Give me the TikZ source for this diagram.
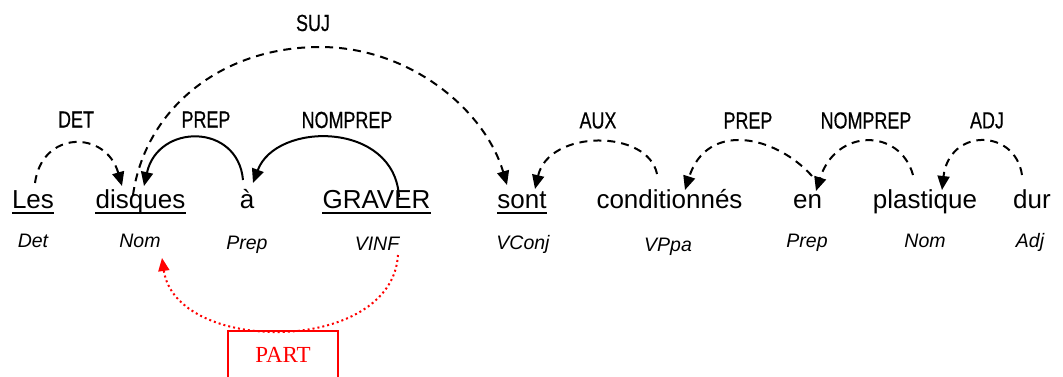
\documentclass[tikz,border=0pt]{standalone}
\usepackage{fontspec}
\setmainfont{Liberation Sans}
\newfontfamily\lblfont[FakeStretch=0.77,FakeBold=0.5]{Liberation Sans}
\newfontfamily\partfont{Liberation Serif}
\usetikzlibrary{arrows.meta}

\begin{document}
\begin{tikzpicture}[x=1pt,y=-1pt,
  word/.style={anchor=base, inner sep=0pt, font=\fontsize{26}{30}\selectfont},
  tag/.style={anchor=base, inner sep=0pt, font=\fontsize{19.5}{23}\selectfont\itshape},
  rel/.style={inner sep=0pt, font=\lblfont\fontsize{23.3}{28}\selectfont},
  dep/.style={line width=2pt, -{Triangle[length=14pt,width=12pt]}},
  depdash/.style={dep, dash pattern=on 8pt off 6pt},
  ul/.style={line width=2.2pt},
  partarc/.style={red, line width=2pt, dash pattern=on 2pt off 3pt,
    -{Triangle[length=13pt,width=11pt]}},
  partbox/.style={draw=red, line width=1.8pt, text=red, anchor=base,
    minimum width=110pt, inner xsep=0pt, inner ysep=0pt,
    text height=31pt, text depth=40pt, font=\partfont\fontsize{23}{27}\selectfont}
]
\useasboundingbox (0,0) rectangle (1063,377);

% sentence words
\node[word] (w1) at (33,208)   {Les};
\node[word] (w2) at (140.5,208) {disques};
\node[word] (w3) at (247,208)  {à};
\node[word] (w4) at (376.5,208) {GRAVER};
\node[word] (w5) at (522,208)  {sont};
\node[word] (w6) at (669.5,208) {conditionnés};
\node[word] (w7) at (807.5,208) {en};
\node[word] (w8) at (925,208)  {plastique};
\node[word] (w9) at (1032,208) {dur};

% underlined words
\foreach \w in {w1,w2,w4,w5}
  \draw[ul] ([yshift=-5pt]\w.base west) -- ([yshift=-5pt]\w.base east);

% part-of-speech tags
\node[tag] (t1) at (33,247)  {Det};
\node[tag] (t2) at (140,247) {Nom};
\node[tag] (t3) at (247,249) {Prep};
\node[tag] (t4) at (377,250) {VINF};
\node[tag] (t5) at (523,249) {VConj};
\node[tag] (t6) at (668,251) {VPpa};
\node[tag] (t7) at (807,247) {Prep};
\node[tag] (t8) at (925,247) {Nom};
\node[tag] (t9) at (1030,247) {Adj};

% relation labels
\node[rel] (lDET)  at (76,119.5)  {DET};
\node[rel] (lSUJ)  at (313,23)  {SUJ};
\node[rel] (lPREP) at (206,119.5) {PREP};
\node[rel] (lNP)   at (347,120) {NOMPREP};
\node[rel] (lAUX)  at (598,120.5) {AUX};
\node[rel] (lPREP2) at (748,120.5) {PREP};
\node[rel] (lNP2)  at (866,120.5) {NOMPREP};
\node[rel] (lADJ)  at (987,120.5) {ADJ};

% dependency arcs
\draw[depdash] ([xshift=2pt,yshift=25pt]w1.base)
  .. controls (42,130) and (106,130) .. ([xshift=-18.5pt,yshift=22pt]w2.base);
\draw[depdash] ([xshift=-7.5pt,yshift=13pt]w2.base)
  .. controls (145,110) and (220,47) .. (320,47)
  .. controls (410,47) and (485,110) .. ([xshift=-15pt,yshift=23pt]w5.base);
\draw[dep] ([xshift=-4pt,yshift=28pt]w3.base)
  .. controls (238,123) and (158,123) .. ([xshift=3.5pt,yshift=22pt]w2.base);
\draw[dep] ([xshift=22.5pt,yshift=11pt]w4.base)
  .. controls (395,121) and (276,121) .. ([xshift=6pt,yshift=25pt]w3.base);
\draw[depdash] ([xshift=-12.5pt,yshift=34pt]w6.base)
  .. controls (648,129) and (549,129) .. ([xshift=13pt,yshift=19pt]w5.base);
\draw[depdash] ([xshift=4.5pt,yshift=32pt]w7.base)
  .. controls (775,135) and (707,121) .. ([xshift=15.5pt,yshift=18pt]w6.base);
\draw[depdash] ([xshift=-12pt,yshift=33pt]w8.base)
  .. controls (900,128) and (836,128) .. ([xshift=8.5pt,yshift=17pt]w7.base);
\draw[depdash] ([xshift=-10pt,yshift=33pt]w9.base)
  .. controls (1015,128) and (949,128) .. ([xshift=17pt,yshift=18pt]w8.base);

% PART relation below the sentence
\node[partbox] (part) at (283,362) {PART};
\draw[partarc] ([xshift=21pt,yshift=-5pt]t4.base)
  .. controls (392,355) and (176,355) .. ([xshift=22pt,yshift=-11pt]t2.base);
\end{tikzpicture}
\end{document}
